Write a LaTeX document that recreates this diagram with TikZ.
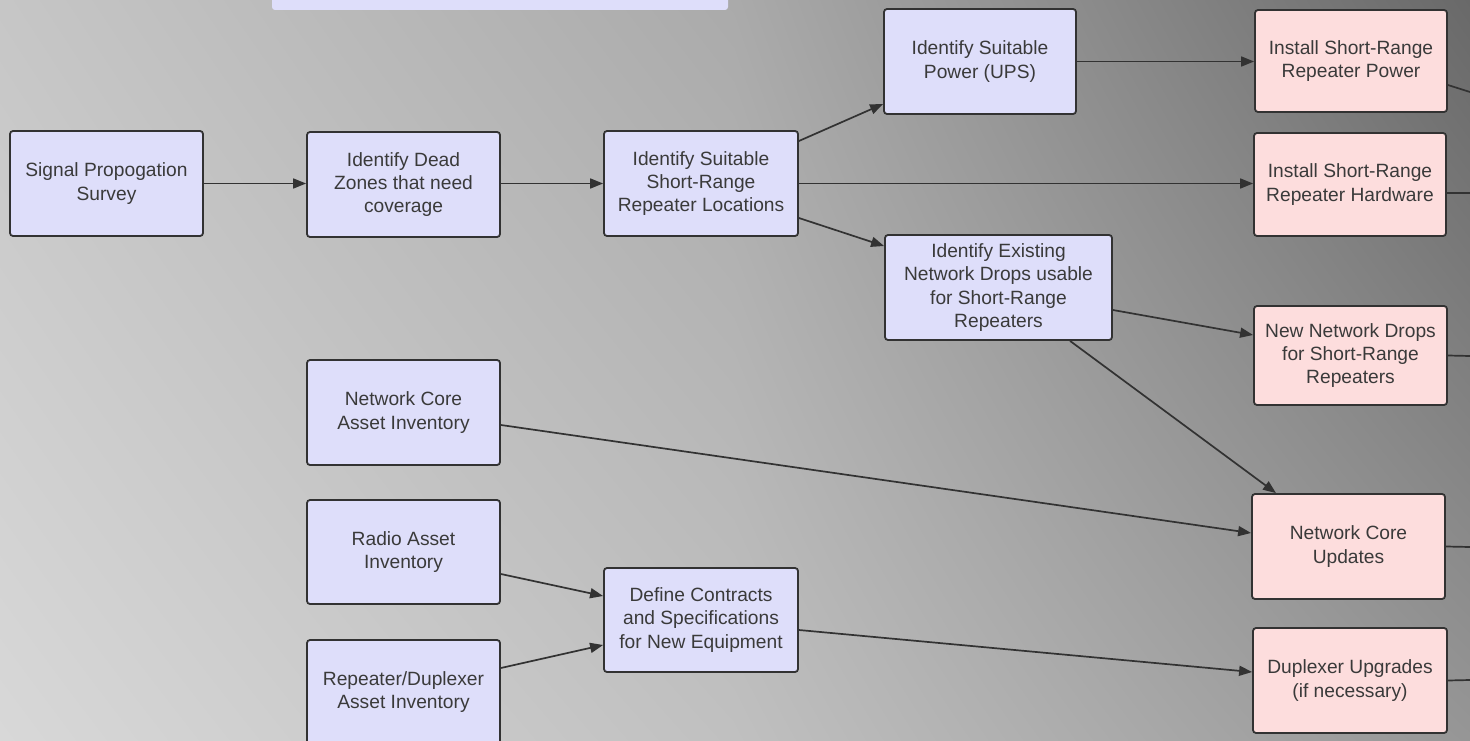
\documentclass[tikz,border=0pt]{standalone}
\usepackage{fontspec}
\setmainfont{Liberation Sans}
\usetikzlibrary{arrows.meta,shadings}
\definecolor{lav}{RGB}{222,222,250}
\definecolor{pnk}{RGB}{253,221,221}
\definecolor{edge}{RGB}{50,50,50}
\definecolor{txt}{RGB}{58,58,58}
\definecolor{bgA}{RGB}{198,198,198}
\definecolor{bgB}{RGB}{216,216,216}
\definecolor{bgC}{RGB}{170,170,170}
\definecolor{bgD}{RGB}{192,192,192}
\definecolor{bgE}{RGB}{105,105,105}
\definecolor{bgF}{RGB}{150,150,150}
\begin{document}
\begin{tikzpicture}[x=1pt,y=-1pt,
  box/.style={draw=edge, line width=1.8pt, rounded corners=3pt, inner sep=0pt,
    align=center, text=txt, font=\fontsize{19.2}{23.3}\selectfont},
  lbox/.style={box, fill=lav},
  pbox/.style={box, fill=pnk},
  conn/.style={draw=edge, line width=1.7pt, -{Triangle[length=13pt,width=10pt]}},
  exitline/.style={draw=edge, line width=1.7pt}]
\clip (0,0) rectangle (1470,741);
\shade[upper left=bgA, lower left=bgB, upper right=bgC, lower right=bgD]
  (0,0) rectangle (736,741);
\shade[upper left=bgC, lower left=bgD, upper right=bgE, lower right=bgF]
  (735,0) rectangle (1470,741);

\node[fill=lav, rounded corners=3pt, minimum width=456pt, minimum height=20pt, inner sep=0pt] (top) at (500,0) {};

\node[lbox, minimum width=193pt, minimum height=105pt] (sig) at (106.5,183.5) {Signal Propogation\\Survey};
\node[lbox, minimum width=193pt, minimum height=105pt] (dead) at (403.5,184.5) {Identify Dead\\Zones that need\\coverage};
\node[lbox, minimum width=194pt, minimum height=105pt] (sug) at (701,183.5) {Identify Suitable\\Short-Range\\Repeater Locations};
\node[lbox, minimum width=192pt, minimum height=105pt] (pow) at (980,61.5) {Identify Suitable\\Power (UPS)};
\node[pbox, minimum width=192pt, minimum height=102pt] (ipow) at (1351,61) {Install Short-Range\\Repeater Power};
\node[pbox, minimum width=192pt, minimum height=103pt] (ihw) at (1350,184.5) {Install Short-Range\\Repeater Hardware};
\node[lbox, minimum width=227pt, minimum height=105pt] (exist) at (998.5,287.5) {Identify Existing\\Network Drops usable\\for Short-Range\\Repeaters};
\node[pbox, minimum width=193pt, minimum height=99pt] (ndrop) at (1350.5,355.5) {New Network Drops\\for Short-Range\\Repeaters};
\node[lbox, minimum width=193pt, minimum height=105pt] (nca) at (403.5,412.5) {Network Core\\Asset Inventory};
\node[pbox, minimum width=193pt, minimum height=105pt] (ncu) at (1348.5,546.5) {Network Core\\Updates};
\node[lbox, minimum width=193pt, minimum height=104pt] (radio) at (403.5,552) {Radio Asset\\Inventory};
\node[lbox, minimum width=194pt, minimum height=104pt] (def) at (701,620) {Define Contracts\\and Specifications\\for New Equipment};
\node[pbox, minimum width=194pt, minimum height=105pt] (dup) at (1350,680.5) {Duplexer Upgrades\\(if necessary)};
\node[lbox, minimum width=193pt, minimum height=104pt] (rep) at (403.5,692) {Repeater/Duplexer\\Asset Inventory};

\draw[conn] (sig.east) -- (dead.west |- sig.east);
\draw[conn] (dead.east |- sug.west) -- (sug.west);
\draw[conn] ([yshift=42.5pt]sug.east) -- ([yshift=-42.5pt]pow.west);
\draw[conn] (sug.east) -- (sug.east -| ihw.west);
\draw[conn] ([yshift=-34.5pt]sug.east) -- ([yshift=41.5pt]exist.west);
\draw[conn] (pow.east) -- (pow.east -| ipow.west);
\draw[conn] ([yshift=-22.5pt]exist.east) -- ([yshift=20.5pt]ndrop.west);
\draw[conn] ([xshift=71.5pt]exist.south) -- ([xshift=-72.5pt]ncu.north);
\draw[conn] ([yshift=-12.5pt]nca.east) -- ([yshift=13.5pt]ncu.west);
\draw[conn] ([yshift=-22pt]radio.east) -- ([yshift=24pt]def.west);
\draw[conn] ([yshift=24pt]rep.east) -- ([yshift=-25pt]def.west);
\draw[conn] ([yshift=-10pt]def.east) -- ([yshift=8.5pt]dup.west);

\coordinate (e1) at (1470,92);
\coordinate (e2) at (1470,193);
\coordinate (e3) at (1470,356);
\coordinate (e4) at (1470,547);
\coordinate (e5) at (1470,680);
\draw[exitline] ([yshift=-24pt]ipow.east) -- (e1);
\draw[exitline] ([yshift=-8.5pt]ihw.east) -- (e2);
\draw[exitline] (ndrop.east) -- (e3);
\draw[exitline] (ncu.east) -- (e4);
\draw[exitline] (dup.east) -- (e5);
\end{tikzpicture}
\end{document}
